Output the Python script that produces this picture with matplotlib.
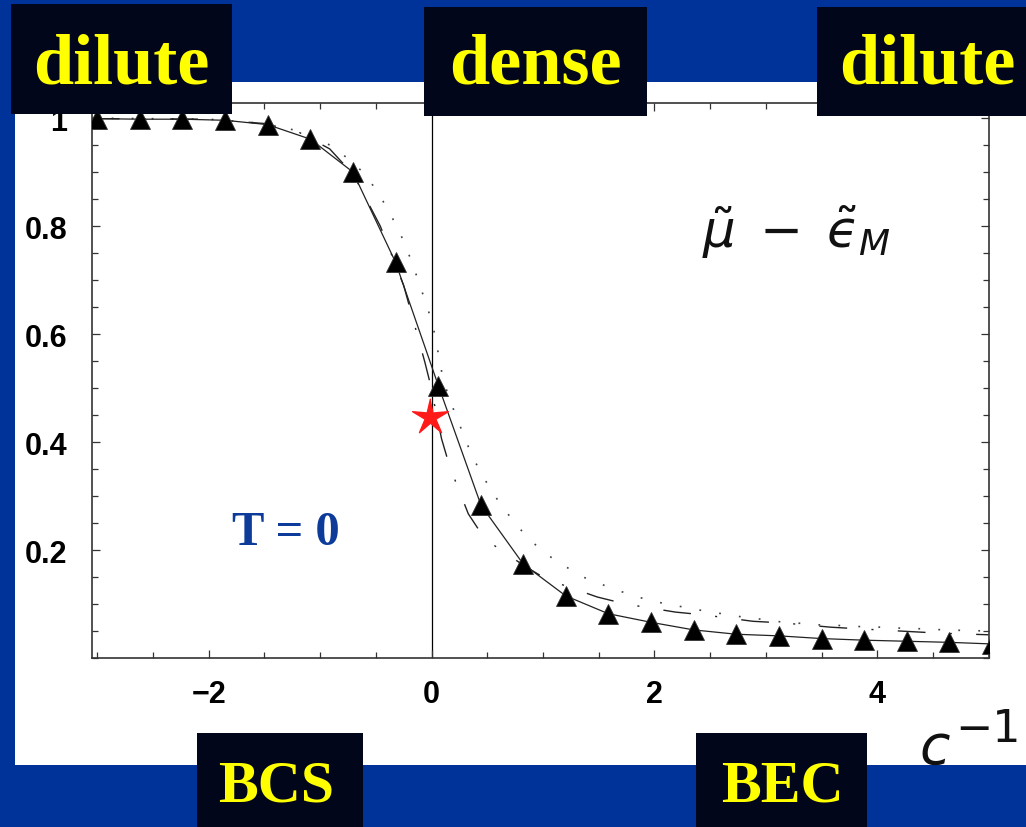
import matplotlib
matplotlib.use("Agg")
import matplotlib.pyplot as plt
from matplotlib.patches import Rectangle
from matplotlib.ticker import MultipleLocator, FixedLocator
import numpy as np

plt.rcParams['lines.scale_dashes'] = False
plt.rcParams['mathtext.fontset'] = 'dejavusans'

# triangles (solid curve passes through them)
tri_x = [-3.0, -2.615, -2.236, -1.854, -1.472, -1.087, -0.705, -0.323, 0.062, 0.444,
         0.823, 1.205, 1.587, 1.972, 2.354, 2.736, 3.118, 3.501, 3.883, 4.264, 4.646, 5.03]
tri_y = [0.999, 0.998, 0.998, 0.996, 0.988, 0.961, 0.900, 0.733, 0.504, 0.283,
         0.174, 0.115, 0.082, 0.066, 0.052, 0.044, 0.041, 0.036, 0.033, 0.031, 0.029, 0.026]

# dash-dot curve
dd_x = [-3.05, -2.0, -1.5, -1.2, -0.914, -0.70, -0.46, -0.25, -0.060, -0.015, 0.090, 0.164,
        0.330, 0.480, 0.838, 1.032, 1.487, 1.741, 2.190, 2.438, 2.884, 3.150, 3.587, 3.841,
        4.290, 4.559, 5.0]
dd_y = [0.999, 0.998, 0.990, 0.975, 0.943, 0.895, 0.800, 0.690, 0.548, 0.511, 0.406, 0.354,
        0.267, 0.220, 0.170, 0.146, 0.113, 0.100, 0.085, 0.080, 0.068, 0.065, 0.057, 0.054,
        0.049, 0.046, 0.043]

# dotted curve
dot_x = [-3.05, -2.0, -1.5, -1.234, -0.899, -0.750, -0.621, -0.502, -0.406, -0.323, -0.243,
         -0.177, -0.115, -0.057, 0.002, 0.041, 0.071, 0.107, 0.167, 0.235, 0.301, 0.369,
         0.458, 0.548, 0.662, 0.772, 0.897, 1.040, 1.190, 1.348, 1.518, 1.688, 1.868, 2.040,
         2.219, 2.398, 2.577, 2.756, 2.951, 3.130, 3.323, 3.502, 3.697, 3.860, 4.055, 4.234,
         4.413, 4.607, 4.786, 5.0]
dot_y = [1.0, 0.998, 0.990, 0.978, 0.949, 0.925, 0.901, 0.869, 0.836, 0.804, 0.769,
         0.733, 0.697, 0.661, 0.624, 0.588, 0.551, 0.514, 0.476, 0.441, 0.406, 0.372,
         0.338, 0.306, 0.273, 0.244, 0.216, 0.191, 0.171, 0.151, 0.137, 0.124, 0.112, 0.103,
         0.096, 0.089, 0.083, 0.077, 0.072, 0.067, 0.064, 0.061, 0.060, 0.058, 0.057, 0.055,
         0.054, 0.052, 0.051, 0.050]

star_x, star_y = [-0.01], [0.446]

xlabels = [-2, 0, 2, 4]
ylabels = [0.2, 0.4, 0.6, 0.8, 1.0]

blue = '#003399'
box = '#01061a'
yellow = '#ffff00'

W, H = 1026, 828
fig = plt.figure(figsize=(W / 100, H / 100), dpi=100, facecolor=blue)


def fx(px):
    return px / W


def fy(py):
    return (H - py) / H


# white panel behind the plot
fig.patches.append(Rectangle((fx(15), fy(766)), fx(1026) - fx(15), fy(83) - fy(766),
                             transform=fig.transFigure, facecolor='white', edgecolor='none',
                             zorder=-1))

ax = fig.add_axes([fx(92), fy(659), fx(988.7) - fx(92), fy(104) - fy(659)], zorder=1)
ax.set_facecolor('white')
ax.set_xlim(-3.047, 5.0)
ax.set_ylim(0, 1.028)

ax.axvline(0, color='black', lw=0.9, zorder=1)
ax.plot(dot_x, dot_y, color='#444444', lw=1.2, ls=(0, (1.3, 13.1)), zorder=2)
ax.plot(dd_x, dd_y, color='#222222', lw=1.0, ls=(0, (20, 17.5, 1.5, 17.5)), zorder=2)
ax.plot(tri_x, tri_y, color='#222222', lw=0.9, marker='^', ms=14, mfc='black',
        mec='#333333', mew=0.6, zorder=3)

# thin five-pointed star
ang = np.pi / 2 + np.arange(10) * np.pi / 5
rad = np.where(np.arange(10) % 2 == 0, 1.0, 0.3)
star = np.column_stack([rad * np.cos(ang), rad * np.sin(ang)])
ax.plot(star_x, star_y, ls='', marker=star, ms=27, color='#ff1a1a', zorder=4)

ax.xaxis.set_major_locator(FixedLocator(xlabels))
ax.xaxis.set_minor_locator(MultipleLocator(0.5))
ax.yaxis.set_major_locator(FixedLocator(ylabels))
ax.yaxis.set_minor_locator(MultipleLocator(0.05))
ax.set_xticklabels(['\u22122', '0', '2', '4'])
ax.set_yticklabels(['0.2', '0.4', '0.6', '0.8', '1'])
ax.tick_params(which='both', direction='in', top=True, right=True, color='#333333', width=0.9)
ax.tick_params(which='major', length=6)
ax.tick_params(which='minor', length=4)
ax.tick_params(axis='x', which='major', pad=15)
ax.tick_params(axis='y', which='major', pad=18)
for lab in ax.get_xticklabels() + ax.get_yticklabels():
    lab.set_fontfamily('Liberation Sans')
    lab.set_fontweight('bold')
    lab.set_fontsize(22)
for s in ax.spines.values():
    s.set_color('#333333')
    s.set_linewidth(1.2)

ax.text(2.43, 0.761, '$\\tilde{\\mu}\\;-\\;\\tilde{\u03f5}_{M}$', fontsize=37, ha='left',
        va='baseline', color='#111111')
ax.text(-1.794, 0.211, 'T = 0', fontsize=35, fontfamily='Liberation Serif',
        fontweight='bold', color='#0d3b99', ha='left', va='baseline')

fig.text(fx(919), fy(764), 'c', fontsize=40, fontstyle='italic', fontfamily='DejaVu Sans',
         color='#111111', ha='left', va='baseline')
fig.text(fx(955), fy(741.7), '\u22121', fontsize=32, fontfamily='DejaVu Sans',
         color='#111111', ha='left', va='baseline')

# labelled boxes
boxes = [
    ('dilute', 11, 232, 5, 115, 52),
    ('dense', 424, 647, 8, 117, 52),
    ('dilute', 817, 1026, 8, 117, 52),
    ('BCS', 197, 363, 734, 828, 43),
    ('BEC', 696, 867, 734, 828, 43),
]
baselines = [83, 83, 83, 802, 802]
centers = [121.5, 535, 927, 276, 782]
for (txt, x0, x1, y0, y1, fs), bl, cx in zip(boxes, baselines, centers):
    fig.patches.append(Rectangle((fx(x0), fy(y1)), fx(x1) - fx(x0), fy(y0) - fy(y1),
                                 transform=fig.transFigure, facecolor=box, edgecolor='none',
                                 zorder=10))
    fig.text(fx(cx), fy(bl), txt, fontsize=fs, fontfamily='Liberation Serif',
             fontweight='bold', color=yellow, ha='center', va='baseline', zorder=11)

fig.savefig('out.png', dpi=100, facecolor=blue)
